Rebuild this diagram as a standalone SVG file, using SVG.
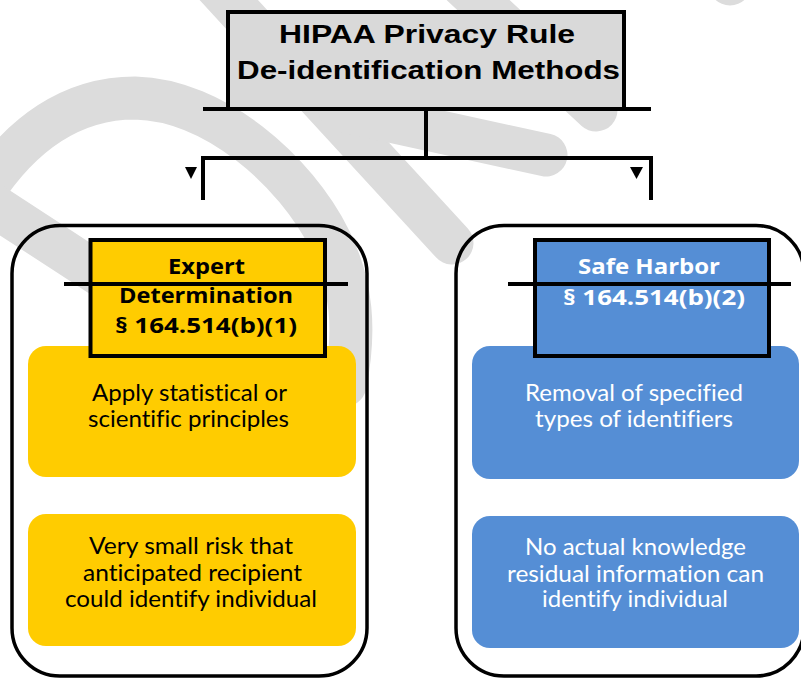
<svg xmlns="http://www.w3.org/2000/svg" width="801" height="679" viewBox="0 0 801 679">
<style>
.wm{fill:none;stroke:#dcdcdc;stroke-width:43;stroke-linecap:round;stroke-linejoin:round}
.outer{fill:none;stroke:#000;stroke-width:3.5}
.yel{fill:#ffcc00}
.blu{fill:#558ed5}
.hdr{stroke:#000;stroke-width:4}
.ln{fill:none;stroke:#000;stroke-width:4}
.title{font-family:"Liberation Sans",Arial,sans-serif;font-weight:bold;font-size:26px;fill:#000}
.h{font-family:"Open Sans",Lato,sans-serif;font-weight:bold;font-size:21px}
.b{font-family:Lato,"Open Sans",sans-serif;font-size:22.5px;font-variant-ligatures:none}
.dk{fill:#000}
.wt{fill:#fff}
</style>
<g id="watermark">
<path class="wm" d="M -25,205 C 20,130 75,98 135,98 C 215,100 295,170 330,240 C 352,285 356,330 345,385"/>
<path class="wm" d="M -15,200 L 200,340"/>
<path class="wm" d="M 215,-15 L 452,243"/>
<path class="wm" d="M 340,110 L 546,155"/>
<path class="wm" d="M 462,-15 L 596,110"/>
<path class="wm" d="M 742,-45 L 730,-16"/>
</g>
<g id="expert-group">
<rect class="outer" x="12" y="225.5" width="355" height="450.5" rx="48"/>
</g>
<g id="safeharbor-group">
<rect class="outer" x="456" y="225.5" width="348" height="450.5" rx="48"/>
</g>
<g id="expert-step1">
<rect class="yel" x="28" y="346" width="328" height="131" rx="18"/>
<text class="b dk"><tspan x="92" y="401" textLength="195" lengthAdjust="spacingAndGlyphs">Apply statistical or</tspan><tspan x="88" y="427" textLength="201" lengthAdjust="spacingAndGlyphs">scientific principles</tspan></text>
</g>
<g id="expert-step2">
<rect class="yel" x="28" y="514" width="328" height="132" rx="18"/>
<text class="b dk"><tspan x="89" y="554" textLength="204" lengthAdjust="spacingAndGlyphs">Very small risk that</tspan><tspan x="83" y="581" textLength="219" lengthAdjust="spacingAndGlyphs">anticipated recipient</tspan><tspan x="65" y="607" textLength="252" lengthAdjust="spacingAndGlyphs">could identify individual</tspan></text>
</g>
<g id="harbor-step1">
<rect class="blu" x="472" y="346" width="327" height="133" rx="18"/>
<text class="b wt"><tspan x="525" y="401" textLength="218" lengthAdjust="spacingAndGlyphs">Removal of specified</tspan><tspan x="535" y="427" textLength="198" lengthAdjust="spacingAndGlyphs">types of identifiers</tspan></text>
</g>
<g id="harbor-step2">
<rect class="blu" x="472" y="516" width="327" height="132" rx="18"/>
<text class="b wt"><tspan x="525" y="555" textLength="221" lengthAdjust="spacingAndGlyphs">No actual knowledge</tspan><tspan x="507" y="582" textLength="257" lengthAdjust="spacingAndGlyphs">residual information can</tspan><tspan x="542" y="607" textLength="186" lengthAdjust="spacingAndGlyphs">identify individual</tspan></text>
</g>
<g id="expert-header">
<rect class="yel hdr" x="90.5" y="240" width="234.5" height="116"/>
<text class="h dk"><tspan x="168" y="274" textLength="77" lengthAdjust="spacingAndGlyphs">Expert</tspan><tspan x="119" y="303" textLength="174" lengthAdjust="spacingAndGlyphs">Determination</tspan><tspan x="115" y="333" textLength="182" lengthAdjust="spacingAndGlyphs">§ 164.514(b)(1)</tspan></text>
</g>
<g id="harbor-header">
<rect class="blu hdr" x="535" y="240" width="234" height="116"/>
<text class="h wt"><tspan x="578" y="274" textLength="142" lengthAdjust="spacingAndGlyphs">Safe Harbor</tspan><tspan x="563" y="305" textLength="182" lengthAdjust="spacingAndGlyphs">§ 164.514(b)(2)</tspan></text>
</g>
<g id="root">
<rect x="228" y="12" width="396" height="97" fill="#d9d9d9" stroke="#000" stroke-width="4"/>
<text class="title"><tspan x="279" y="43" textLength="296" lengthAdjust="spacingAndGlyphs">HIPAA Privacy Rule</tspan><tspan x="237" y="79" textLength="383" lengthAdjust="spacingAndGlyphs">De-identification Methods</tspan></text>
</g>
<g id="connectors">
<path class="ln" d="M 203,109 H 651"/>
<path class="ln" d="M 426,109 V 158"/>
<path class="ln" d="M 203,200 V 158 H 651 V 200"/>
<polygon points="185,167 197,167 191,179" fill="#000"/>
<polygon points="630,167 643,167 636.5,179" fill="#000"/>
<path class="ln" d="M 64,284 H 348"/>
<path class="ln" d="M 508,284 H 791"/>
</g>
</svg>
